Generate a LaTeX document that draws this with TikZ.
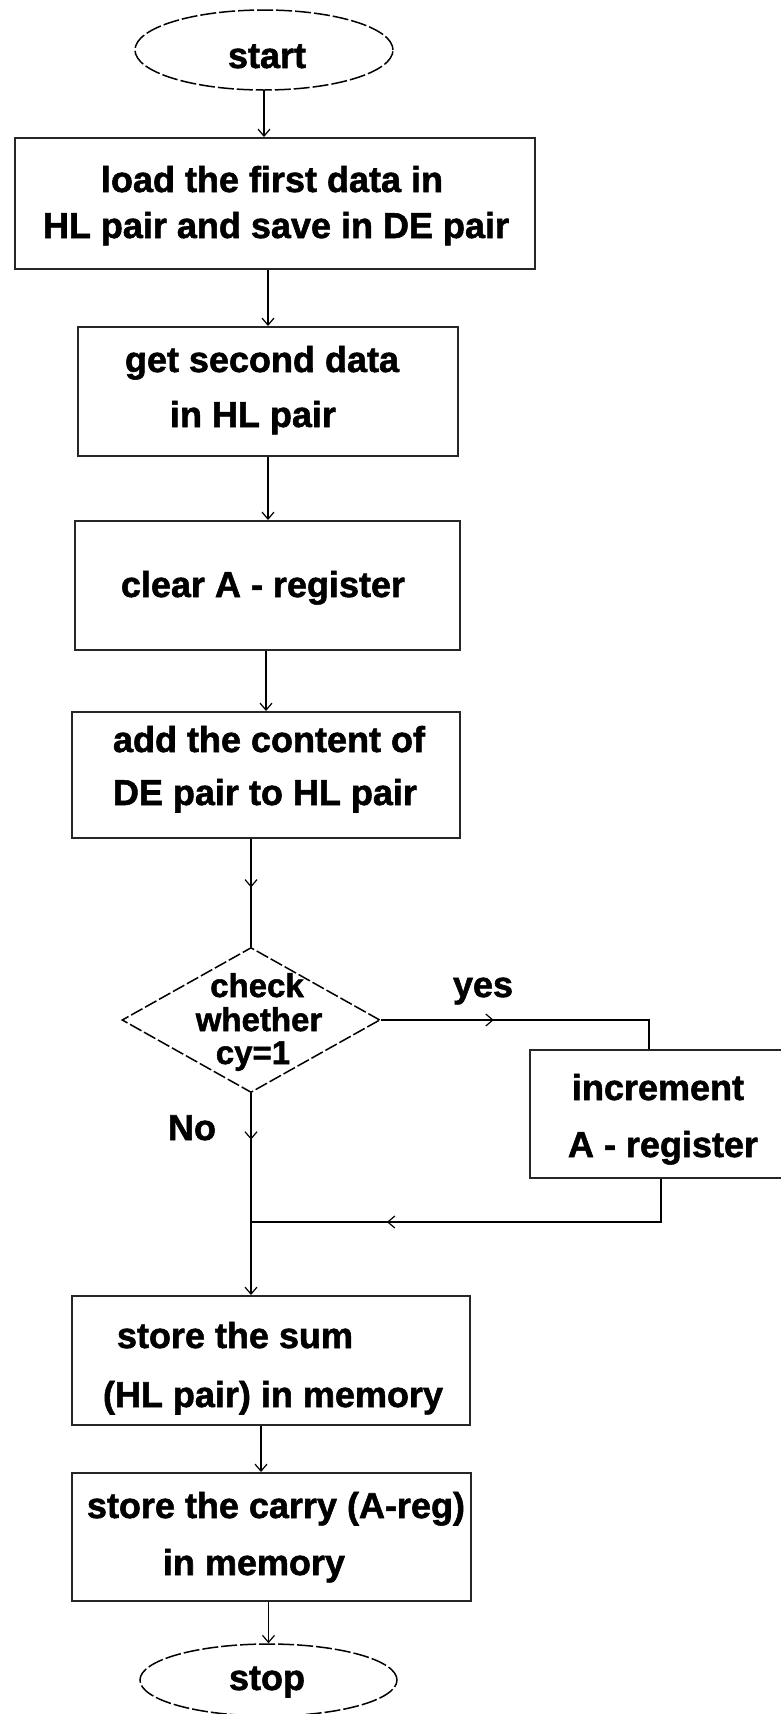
\documentclass[tikz,border=0pt]{standalone}
\usepackage{fontspec}
\newfontfamily\flowfont{Liberation Sans}[BoldFeatures={FakeBold=1.5}]
\usetikzlibrary{shapes.geometric,arrows.meta,decorations.markings}
\tikzset{
  box/.style={draw=black!85, line width=2pt, rectangle, inner sep=0pt},
  term/.style={draw=black, ellipse, line width=1.5pt, dash pattern=on 16pt off 3pt, inner sep=0pt},
  decide/.style={draw=black, diamond, line width=1.5pt, dash pattern=on 13pt off 3pt, inner sep=0pt},
  txt/.style={font=\flowfont\bfseries\fontsize{36}{36}\selectfont, inner sep=0pt, anchor=base},
  dtxt/.style={font=\flowfont\bfseries\fontsize{33}{33}\selectfont, inner sep=0pt, anchor=base},
  tip/.tip={Straight Barb[length=7pt,width=12pt,line width=1.2pt]},
  conn/.style={line width=1.5pt, -tip},
  line/.style={line width=1.5pt},
  midarr/.style={postaction={decorate}, decoration={markings, mark=at position #1 with {\arrow{tip}}}}
}
\begin{document}
\begin{tikzpicture}[x=1pt,y=-1pt]
\useasboundingbox (0,0) rectangle (781,1714);
\fill[white] (0,0) rectangle (781,1714);
\clip (0,0) rectangle (781,1714);

% shapes
\node[term, minimum width=258pt, minimum height=80pt] (start) at (264,50) {};
\node[box, minimum width=520pt, minimum height=131pt] (b1) at (275,203.5) {};
\node[box, minimum width=380pt, minimum height=129pt] (b2) at (268,391.5) {};
\node[box, minimum width=385pt, minimum height=129pt] (b3) at (267.5,585.5) {};
\node[box, minimum width=388pt, minimum height=126pt] (b4) at (266,775) {};
\node[decide, minimum width=258pt, minimum height=145pt] (d) at (251,1020) {};
\node[box, minimum width=262pt, minimum height=128pt] (inc) at (661,1114) {};
\node[box, minimum width=398pt, minimum height=129pt] (b5) at (271,1360.5) {};
\node[box, minimum width=399pt, minimum height=128pt] (b6) at (271.5,1537) {};
\node[term, minimum width=257pt, minimum height=72pt] (stop) at (268.5,1680) {};

% texts
\node[txt] (tstart) at (267,68) {start};
\node[txt] (t11) at (272,192) {load the first data in};
\node[txt] (t12) at (276,238) {HL pair and save in DE pair};
\node[txt] (t21) at (262,372) {get second data};
\node[txt] (t22) at (253,427) {in HL pair};
\node[txt] (t31) at (263,597) {clear A - register};
\node[txt] (t41) at (269,752) {add the content of};
\node[txt] (t42) at (265,805) {DE pair to HL pair};
\node[dtxt] (td1) at (257,997) {check};
\node[dtxt] (td2) at (259,1031) {whether};
\node[dtxt] (td3) at (253,1064) {cy=1};
\node[txt] (lyes) at (483,997) {yes};
\node[txt] (lno) at (192,1140) {No};
\node[txt] (ti1) at (658,1100) {increment};
\node[txt] (ti2) at (663,1157) {A - register};
\node[txt] (t51) at (235,1348) {store the sum};
\node[txt] (t52) at (273,1407) {(HL pair) in memory};
\node[txt] (t61) at (276,1518) {store the carry (A-reg)};
\node[txt] (t62) at (254,1575) {in memory};
\node[txt] (tstop) at (267,1690) {stop};

% connectors
\coordinate (yc) at (649,1020);
\coordinate (rj) at (251,1222);
\draw[conn] (start.south) -- (start.south |- b1.north);
\draw[conn] (b2.north |- b1.south) -- (b2.north);
\draw[conn] (b2.south) -- (b2.south |- b3.north);
\draw[conn] (b4.north |- b3.south) -- (b4.north);
\draw[line, midarr=0.45] (d.north |- b4.south) -- (d.north);
\draw[conn, midarr=0.23] (d.south) -- (d.south |- b5.north);
\draw[line, midarr=0.38] (d.east) -- (yc) -- (yc |- inc.north);
\draw[line, midarr=0.7] (inc.south) |- (rj);
\draw[conn] ([xshift=-10pt]b5.south) -- ([xshift=-10pt]b5.south |- b6.north);
\draw[conn] (stop.north |- b6.south) -- (stop.north);
\end{tikzpicture}
\end{document}
